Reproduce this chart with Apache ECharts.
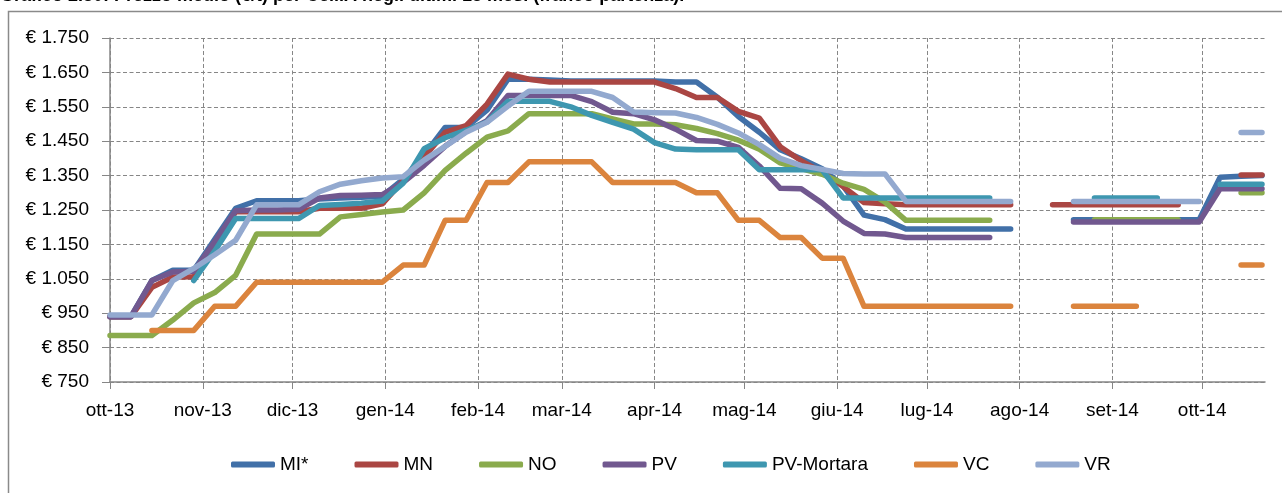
<!DOCTYPE html>
<html>
<head>
<meta charset="utf-8">
<script src="https://cdn.jsdelivr.net/npm/echarts@6/dist/echarts.min.js"></script>
<style>
  html, body { margin: 0; padding: 0; background: #fff; }
  #graph { width: 1282px; height: 493px; }
</style>
</head>
<body>
<div id="graph"></div>
<script>
// weekly price points (€/t)
const weeks = [
  '2013-10-01', '2013-10-08', '2013-10-15', '2013-10-22', '2013-10-29',
  '2013-11-05', '2013-11-12', '2013-11-19', '2013-11-26',
  '2013-12-03', '2013-12-10', '2013-12-17', '2013-12-24', '2013-12-31',
  '2014-01-07', '2014-01-14', '2014-01-21', '2014-01-28',
  '2014-02-04', '2014-02-11', '2014-02-18', '2014-02-25',
  '2014-03-04', '2014-03-11', '2014-03-18', '2014-03-25',
  '2014-04-01', '2014-04-08', '2014-04-15', '2014-04-22', '2014-04-29',
  '2014-05-06', '2014-05-13', '2014-05-20', '2014-05-27',
  '2014-06-03', '2014-06-10', '2014-06-17', '2014-06-24',
  '2014-07-01', '2014-07-08', '2014-07-15', '2014-07-22', '2014-07-29',
  '2014-08-05', '2014-08-12', '2014-08-19', '2014-08-26',
  '2014-09-02', '2014-09-09', '2014-09-16', '2014-09-23', '2014-09-30',
  '2014-10-07', '2014-10-14', '2014-10-21'
]
const monthLabels = ['ott-13', 'nov-13', 'dic-13', 'gen-14', 'feb-14', 'mar-14', 'apr-14',
  'mag-14', 'giu-14', 'lug-14', 'ago-14', 'set-14', 'ott-14']

const mi = [940, 940, 1045, 1075, 1075, 1165, 1255, 1277, 1277, 1277, 1282, 1285, 1287, 1290,
  1340, 1410, 1490, 1490, 1540, 1630, 1630, 1628, 1625, 1625, 1625, 1625, 1625, 1622, 1622,
  1578, 1522, 1476, 1425, 1399, 1370, 1320, 1235, 1222, 1195, 1195, 1195, 1195, 1195, 1195,
  null, null, 1222, 1222, 1222, 1222, 1222, 1222, 1222, 1345, 1348, 1350]
const mn = [940, 940, 1025, 1055, 1056, 1150, 1245, 1245, 1245, 1245, 1255, 1255, 1255, 1268,
  1336, 1404, 1476, 1495, 1558, 1645, 1630, 1622, 1622, 1622, 1622, 1622, 1622, 1603, 1577,
  1577, 1537, 1517, 1434, 1393, 1360, 1318, 1272, 1268, 1265, 1265, 1265, 1265, 1265, 1265,
  null, 1265, 1265, 1265, 1265, 1265, 1265, 1265, null, null, 1352, 1352]
const no = [885, 885, 885, 930, 980, 1010, 1060, 1180, 1180, 1180, 1180, 1230, 1237, 1244,
  1250, 1300, 1365, 1415, 1462, 1480, 1530, 1530, 1530, 1530, 1515, 1500, 1500, 1498, 1487,
  1472, 1453, 1427, 1387, 1370, 1354, 1328, 1310, 1273, 1220, 1220, 1220, 1220, 1220, null,
  null, null, null, 1222, 1222, 1222, 1222, 1222, null, null, 1300, 1300]
const pv = [940, 940, 1045, 1070, 1072, 1158, 1248, 1250, 1250, 1252, 1285, 1292, 1293, 1295,
  1330, 1380, 1435, 1478, 1510, 1583, 1583, 1583, 1583, 1565, 1534, 1530, 1512, 1485, 1452,
  1450, 1432, 1378, 1313, 1312, 1270, 1218, 1182, 1180, 1170, 1170, 1170, 1170, 1170, null,
  null, null, 1215, 1215, 1215, 1215, 1215, 1215, 1215, 1312, 1312, 1312]
const pvMortara = [null, null, null, null, 1045, 1131, 1225, 1225, 1225, 1225, 1263, 1266, 1270, 1276,
  1328, 1428, 1460, 1482, 1506, 1566, 1566, 1566, 1550, 1525, 1505, 1485, 1446, 1427, 1425,
  1425, 1425, 1367, 1367, 1367, 1367, 1285, 1285, 1285, 1285, 1285, 1285, 1285, 1285, null,
  null, null, null, 1285, 1285, 1285, 1285, null, null, 1325, 1325, 1325]
const vc = [null, null, 900, 900, 900, 970, 970, 1040, 1040, 1040, 1040, 1040, 1040, 1040,
  1090, 1090, 1220, 1220, 1330, 1330, 1390, 1390, 1390, 1390, 1330, 1330, 1330, 1330, 1300,
  1300, 1220, 1220, 1170, 1170, 1110, 1110, 970, 970, 970, 970, 970, 970, 970, 970,
  null, null, 970, 970, 970, 970, null, null, null, null, 1090, 1090]
const vr = [945, 945, 945, 1045, 1080, 1120, 1162, 1265, 1265, 1265, 1303, 1325, 1335, 1343,
  1347, 1395, 1435, 1476, 1505, 1552, 1595, 1595, 1595, 1595, 1577, 1535, 1533, 1532, 1519,
  1499, 1474, 1440, 1400, 1379, 1368, 1356, 1355, 1355, 1275, 1275, 1275, 1275, 1275, 1275,
  null, null, 1275, 1275, 1275, 1275, 1275, 1275, 1275, null, 1475, 1475]

const seriesNames = ['MI*', 'MN', 'NO', 'PV', 'PV-Mortara', 'VC', 'VR']
const seriesValues = [mi, mn, no, pv, pvMortara, vc, vr]
const colors = ['#4170A8', '#AA4643', '#8AAB4D', '#71588F', '#3E97B0', '#DB843D', '#93A9CF']

// one category per day, from the first week to the end of the axis
const days = []
const startDay = Date.UTC(2013, 9, 1)
const endDay = Date.UTC(2014, 9, 22)
for (let t = startDay; t <= endDay; t += 86400000) {
  days.push(new Date(t).toISOString().slice(0, 10))
}
const isMonthStart = (i, v) => v.slice(8) === '01'
const monthOf = v => (+v.slice(0, 4) - 2013) * 12 + (+v.slice(5, 7)) - 10

const font = 'Liberation Sans'
const gridColor = '#868686'

const chart = echarts.init(document.getElementById('graph'))
chart.setOption({
  animation: false,
  textStyle: { fontFamily: font },
  color: colors,
  graphic: [
    {
      type: 'rect',
      shape: { x: 8.5, y: 11.5, width: 1300, height: 520 },
      style: { fill: 'none', stroke: '#8a8a8a', lineWidth: 1.5 },
      silent: true
    },
    {
      type: 'text',
      left: 0,
      top: -13,
      style: {
        text: 'Grafico 2.30: Prezzo medio (€/t) per Cell.A negli ultimi 13 mesi (franco partenza).',
        font: 'bold 18px "Liberation Sans"',
        fill: '#000'
      }
    }
  ],
  grid: { left: 110, right: 17, top: 38, bottom: 111 },
  legend: {
    data: seriesNames,
    left: 226,
    top: 450,
    icon: 'roundRect',
    itemWidth: 44,
    itemHeight: 6,
    itemGap: 46,
    textStyle: { fontSize: 19, color: '#000', fontFamily: font }
  },
  xAxis: {
    type: 'category',
    data: days,
    boundaryGap: false,
    axisLine: { lineStyle: { color: gridColor, width: 1.5 } },
    axisTick: { show: true, interval: isMonthStart, length: 7, lineStyle: { color: gridColor } },
    axisLabel: {
      interval: isMonthStart,
      formatter: v => monthLabels[monthOf(v)],
      color: '#000',
      fontSize: 19,
      margin: 19
    },
    splitLine: {
      show: true,
      interval: isMonthStart,
      lineStyle: { color: gridColor, type: [4, 2.5], width: 1 }
    }
  },
  yAxis: {
    type: 'value',
    min: 750,
    max: 1750,
    interval: 100,
    axisLine: { show: true, lineStyle: { color: gridColor, width: 1.5 } },
    axisTick: { show: true, length: 8, lineStyle: { color: gridColor } },
    axisLabel: {
      color: '#000',
      fontSize: 19,
      margin: 21,
      formatter: v => '€ ' + (v >= 1000 ? Math.floor(v / 1000) + '.' + String(v % 1000).padStart(3, '0') : v)
    },
    splitLine: { lineStyle: { color: gridColor, type: [4, 2.5], width: 1 } }
  },
  series: seriesNames.map((name, s) => ({
    name,
    type: 'line',
    symbol: 'none',
    showSymbol: false,
    connectNulls: false,
    lineStyle: { width: 5.5, cap: 'round', join: 'round' },
    data: weeks.map((d, i) => [d, seriesValues[s][i]])
  }))
})
</script>
</body>
</html>
